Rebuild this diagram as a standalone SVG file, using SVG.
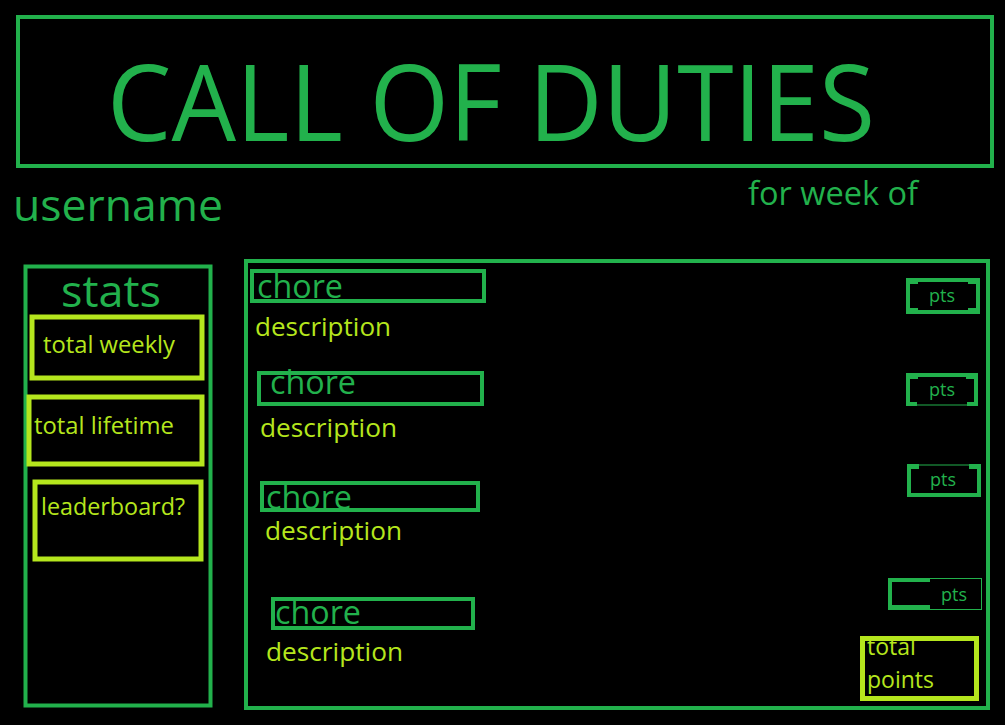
<svg xmlns="http://www.w3.org/2000/svg" width="1005" height="725" viewBox="0 0 1005 725">
<style>
.g{fill:none;stroke:#22b14c;stroke-width:4}
.y{fill:none;stroke:#b5e61d;stroke-width:5}
.gf{fill:#22b14c}
.t{font-family:"Open Sans","Noto Sans",sans-serif}
.tg{fill:#22b14c}
.ty{fill:#b5e61d}
.ch{font-size:32px}
.ds{font-size:25px}
.pt{font-size:18px}
</style>
<rect width="1005" height="725" fill="#000"/>
<g id="title">
<rect class="g" x="18" y="17" width="974" height="149"/>
<text class="t tg" x="107" y="141" font-size="106" textLength="768" lengthAdjust="spacingAndGlyphs">CALL OF DUTIES</text>
</g>
<g id="username"><text class="t tg" x="13" y="221" font-size="44" textLength="210" lengthAdjust="spacingAndGlyphs">username</text></g>
<g id="weekof"><text class="t tg" x="748" y="205" font-size="32" textLength="170" lengthAdjust="spacingAndGlyphs">for week of</text></g>
<g id="stats">
<rect class="g" x="25.5" y="266.5" width="185" height="439"/>
<text class="t tg" x="61" y="307" font-size="44" textLength="100" lengthAdjust="spacingAndGlyphs">stats</text>
</g>
<g id="total-weekly">
<rect class="y" x="32" y="317" width="170" height="61"/>
<text class="t ty" x="43" y="353" font-size="23" textLength="132" lengthAdjust="spacingAndGlyphs">total weekly</text>
</g>
<g id="total-lifetime">
<rect class="y" x="29" y="397" width="173" height="67"/>
<text class="t ty" x="34" y="434" font-size="23" textLength="140" lengthAdjust="spacingAndGlyphs">total lifetime</text>
</g>
<g id="leaderboard">
<rect class="y" x="35" y="482" width="166" height="77"/>
<text class="t ty" x="41" y="515" font-size="23" textLength="144" lengthAdjust="spacingAndGlyphs">leaderboard?</text>
</g>
<g id="chores-panel">
<rect class="g" x="246" y="261" width="742" height="447"/>
</g>
<g id="chore1">
<rect class="g" x="252" y="271" width="232" height="30"/>
<text class="t tg ch" x="257" y="298" textLength="86" lengthAdjust="spacingAndGlyphs">chore</text>
<text class="t ty ds" x="255" y="336" textLength="136" lengthAdjust="spacingAndGlyphs">description</text>
</g>
<g id="chore2">
<rect class="g" x="259" y="373" width="223" height="31"/>
<text class="t tg ch" x="270" y="394" textLength="86" lengthAdjust="spacingAndGlyphs">chore</text>
<text class="t ty ds" x="260" y="437" textLength="137" lengthAdjust="spacingAndGlyphs">description</text>
</g>
<g id="chore3">
<rect class="g" x="262" y="483" width="216" height="27"/>
<text class="t tg ch" x="266" y="509" textLength="86" lengthAdjust="spacingAndGlyphs">chore</text>
<text class="t ty ds" x="265" y="540" textLength="137" lengthAdjust="spacingAndGlyphs">description</text>
</g>
<g id="chore4">
<rect class="g" x="273" y="599" width="200" height="29"/>
<text class="t tg ch" x="275" y="624" textLength="86" lengthAdjust="spacingAndGlyphs">chore</text>
<text class="t ty ds" x="266" y="661" textLength="137" lengthAdjust="spacingAndGlyphs">description</text>
</g>
<g id="pts1">
<rect class="g" x="908" y="280" width="70" height="32"/>
<rect class="gf" x="910" y="282" width="8" height="2"/><rect class="gf" x="968" y="282" width="8" height="2"/>
<rect class="gf" x="910" y="308" width="8" height="2"/><rect class="gf" x="968" y="308" width="8" height="2"/>
<text class="t tg pt" x="942" y="302" text-anchor="middle">pts</text>
</g>
<g id="pts2">
<path class="g" d="M917,404 H908 V375 H976 V404 H967"/>
<path d="M917,405 H967" stroke="#22b14c" stroke-width="1" fill="none"/>
<rect class="gf" x="910" y="377" width="8" height="2"/><rect class="gf" x="966" y="377" width="8" height="2"/>
<text class="t tg pt" x="942" y="396" text-anchor="middle">pts</text>
</g>
<g id="pts3">
<path class="g" d="M919,466 H909 V495 H979 V466 H969"/>
<path d="M919,465 H969" stroke="#22b14c" stroke-width="1" fill="none"/>
<rect class="gf" x="911" y="466" width="8" height="3"/><rect class="gf" x="969" y="466" width="8" height="3"/>
<text class="t tg pt" x="943" y="486" text-anchor="middle">pts</text>
</g>
<g id="pts4">
<path class="g" d="M930,580 H890 V607 H930"/>
<rect x="888.5" y="578.5" width="93" height="31" fill="none" stroke="#22b14c" stroke-width="1"/>
<text class="t tg pt" x="954" y="601" text-anchor="middle">pts</text>
</g>
<g id="total-points">
<rect class="y" x="862.5" y="638.5" width="114" height="60"/>
<text class="t ty" x="867" y="655" font-size="23">total</text>
<text class="t ty" x="867" y="688" font-size="23">points</text>
</g>
</svg>
